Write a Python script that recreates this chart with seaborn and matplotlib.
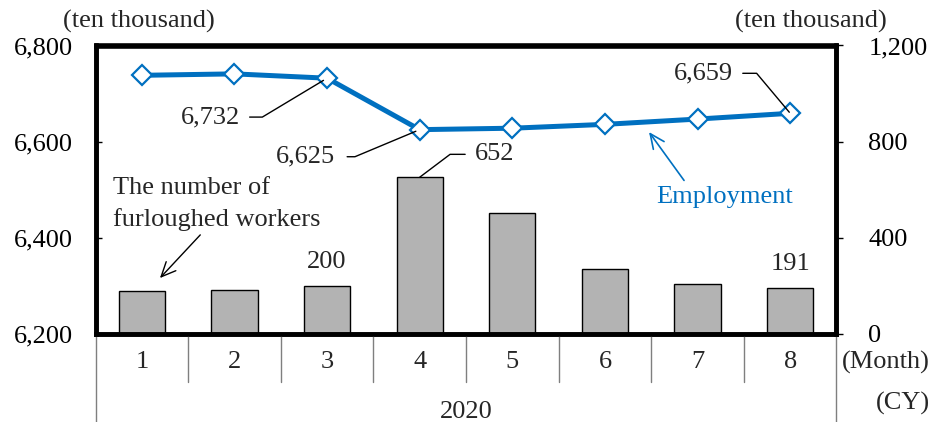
import numpy as np
import pandas as pd
import matplotlib
matplotlib.use("Agg")
import matplotlib.pyplot as plt
import matplotlib.transforms as mtransforms
import seaborn as sns

# Monthly figures, 2020 (ten thousand persons)
months = [1, 2, 3, 4, 5, 6, 7, 8]
employment = [6738, 6741, 6732, 6625, 6628, 6636, 6647, 6659]
furloughed = [177, 185, 200, 652, 502, 270, 207, 191]
year_label = "2020"
left_ticks = [6200, 6400, 6600, 6800]
right_ticks = [0, 400, 800, 1200]

BLUE = "#0070C0"
GRAY = "#B3B3B3"
FS = 19

sns.set_theme(style="white")
plt.rcParams["font.family"] = ["Liberation Serif", "DejaVu Serif"]

df = pd.DataFrame({"month": months, "pos": np.arange(len(months)),
                   "employment": employment, "furloughed": furloughed})

fig = plt.figure(figsize=(9.33, 4.22), dpi=100)
W, H = 933, 422
x0, x1, ytop, ybot = 95.5, 836.5, 45.5, 334.0
ax = fig.add_axes([x0 / W, 1 - ybot / H, (x1 - x0) / W, (ybot - ytop) / H])
ax2 = ax.twinx()

# Bars: furloughed workers on the right-hand scale
sns.barplot(data=df, x="pos", y="furloughed", ax=ax2, color=GRAY,
            saturation=1, edgecolor="black", linewidth=1.0, width=0.5,
            native_scale=True)

# Line: employment on the left-hand scale
sns.lineplot(data=df, x="pos", y="employment", ax=ax, color=BLUE, lw=3.6,
             marker="D", markersize=10.5, markerfacecolor="white",
             markeredgecolor=BLUE, markeredgewidth=1.6, zorder=5)

ax.set_zorder(ax2.get_zorder() + 1)
ax.patch.set_visible(False)

for a in (ax, ax2):
    a.set_xlim(-0.5, len(months) - 0.5)
    a.set_xlabel("")
    a.set_ylabel("")
    a.tick_params(axis="x", bottom=False, labelbottom=False, top=False)
    for s in a.spines.values():
        s.set_visible(True)
        s.set_color("black")
        s.set_linewidth(3.3)
    a.grid(False)

ax.set_ylim(6200, 6800)
ax.set_yticks(left_ticks)
ax.set_yticklabels([f"{v:,}" for v in left_ticks], fontsize=FS)
ax.tick_params(axis="y", direction="in", length=4.5, width=1, pad=16,
               left=True, right=False, labelleft=True, labelright=False,
               colors="black")

ax2.set_ylim(0, 1200)
ax2.set_yticks(right_ticks)
ax2.set_yticklabels([f"{v:,}" for v in right_ticks], fontsize=FS)
ax2.tick_params(axis="y", direction="out", length=5, width=1, pad=18,
                right=True, left=False, labelright=True, labelleft=False,
                colors="black")

# Category strip under the plot
blend = mtransforms.blended_transform_factory(ax.transData, ax.transAxes)
for i, m in enumerate(months):
    ax.text(i, -0.098, str(m), transform=blend, ha="center", va="center",
            fontsize=FS, clip_on=False)
for i in range(1, len(months)):
    ax.plot([i - 0.5, i - 0.5], [0, -0.167], transform=blend, color="#7F7F7F",
            lw=1, clip_on=False, zorder=1)
for xe in (-0.5, len(months) - 0.5):
    ax.plot([xe, xe], [0, -0.31], transform=blend, color="#7F7F7F",
            lw=1, clip_on=False, zorder=1)
ax.text((len(months) - 1) / 2, -0.27, year_label, transform=blend,
        ha="center", va="center", fontsize=FS, clip_on=False)

fig.text(930 / W, 1 - 362 / H, "(Month)", ha="right", va="center", fontsize=FS)
fig.text(930 / W, 1 - 403 / H, "(CY)", ha="right", va="center", fontsize=FS)
fig.text(139 / W, 1 - 21 / H, "(ten thousand)", ha="center", va="center", fontsize=FS)
fig.text(811 / W, 1 - 21 / H, "(ten thousand)", ha="center", va="center", fontsize=FS)

# Value call-outs on the employment line
def callout(a, i, val, dx, dy, angle, left=False, shrinkA=4.5, shrinkB=3):
    a.annotate(f"{val:,}", xy=(i, val), xytext=(dx, dy),
               textcoords="offset points",
               ha="left" if left else "right", va="center", fontsize=FS,
               arrowprops=dict(arrowstyle="-", color="black", lw=1,
                               connectionstyle=f"angle,angleA=0,angleB={angle},rad=0",
                               relpos=(0, 0.5) if left else (1, 0.5),
                               shrinkA=shrinkA, shrinkB=shrinkB),
               zorder=6)

callout(ax, 2, employment[2], -62.6, -28, 31)
callout(ax, 3, employment[3], -61.2, -19.5, 22.7, shrinkA=6.6)
callout(ax, 7, employment[7], -41, 28.8, -50, shrinkB=1)
callout(ax2, 3, furloughed[3], 39.6, 16.5, 37, shrinkB=0, left=True)

for i in (2, 7):
    ax2.annotate(f"{furloughed[i]:,}", xy=(i, furloughed[i]), xytext=(0, 17),
                 textcoords="offset points", ha="center", va="center", fontsize=FS)

# Series labels with arrows
ax.annotate("The number of\nfurloughed workers", xy=(0.087, 0.194),
            xycoords="axes fraction", xytext=(0.0236, 0.452),
            textcoords="axes fraction", ha="left", va="center", fontsize=FS,
            linespacing=1.5,
            arrowprops=dict(arrowstyle="->,head_length=0.55,head_width=0.25",
                            color="black", lw=1, relpos=(0.44, 0),
                            shrinkA=1, shrinkB=0))
ax.annotate("Employment", xy=(0.747, 0.700), xycoords="axes fraction",
            xytext=(0.8495, 0.475), textcoords="axes fraction",
            ha="center", va="center", fontsize=FS, color=BLUE,
            arrowprops=dict(arrowstyle="->,head_length=0.55,head_width=0.25",
                            color=BLUE, lw=1.2, relpos=(0.23, 1),
                            shrinkA=2, shrinkB=0))

fig.savefig("out.png", dpi=100)
